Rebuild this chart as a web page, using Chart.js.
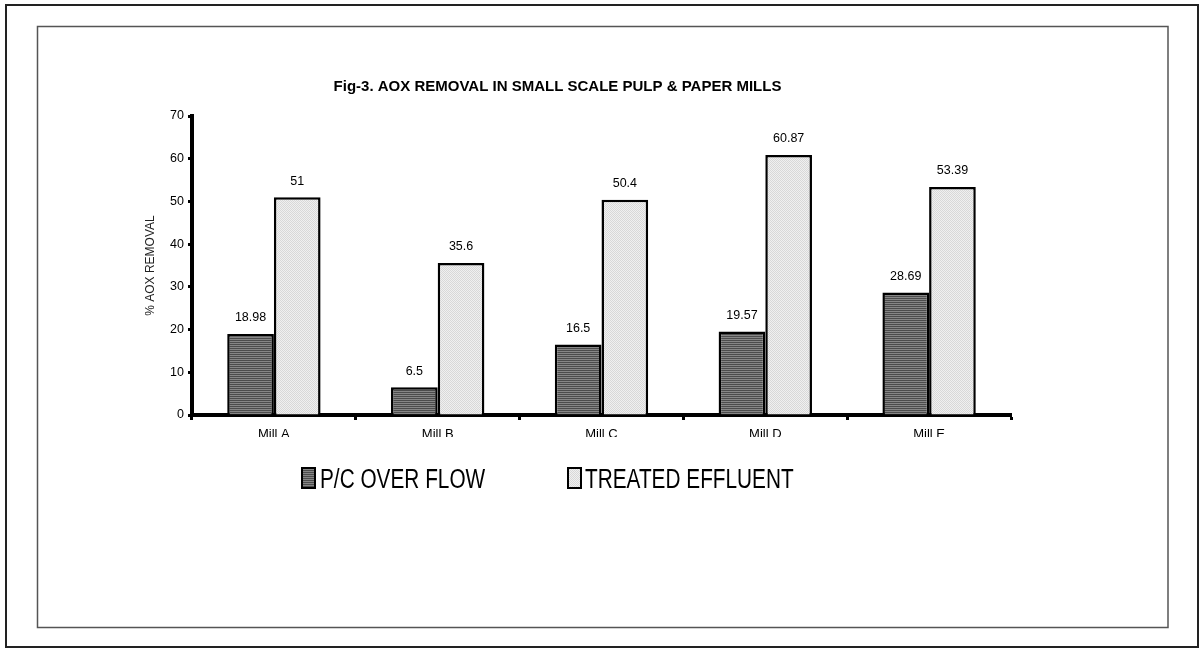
<!DOCTYPE html>
<html>
<head>
<meta charset="utf-8">
<script src="https://cdn.jsdelivr.net/npm/chart.js@4/dist/chart.umd.min.js"></script>
<style>
  html, body { margin: 0; padding: 0; background: #fff; }
  #wrap { position: relative; width: 1204px; height: 648px; }
</style>
</head>
<body>
<div id="wrap"><canvas id="c"></canvas></div>
<script>
const categories = ['Mill A', 'Mill B', 'Mill C', 'Mill D', 'Mill E'];
const seriesNames = ['P/C OVER FLOW', 'TREATED EFFLUENT'];
const pcOverFlow = [18.98, 6.5, 16.5, 19.57, 28.69];
const treatedEffluent = [51, 35.6, 50.4, 60.87, 53.39];
const yTicks = [0, 10, 20, 30, 40, 50, 60, 70];
const chartTitle = 'Fig-3. AOX REMOVAL IN SMALL SCALE PULP & PAPER MILLS';
const yTitle = '% AOX REMOVAL';

const FONT = '"Liberation Sans", Arial, sans-serif';

function makePattern(w, h, draw) {
  const cv = document.createElement('canvas');
  cv.width = w; cv.height = h;
  const g = cv.getContext('2d');
  draw(g);
  return g.createPattern(cv, 'repeat');
}
const darkPattern = makePattern(1, 2, g => {
  g.fillStyle = '#4c4c4c'; g.fillRect(0, 0, 1, 1);
  g.fillStyle = '#868686'; g.fillRect(0, 1, 1, 1);
});
const lightPattern = makePattern(2, 2, g => {
  g.fillStyle = '#f0f0f0'; g.fillRect(0, 0, 2, 2);
  g.fillStyle = '#d8d8d8'; g.fillRect(0, 0, 1, 1); g.fillRect(1, 1, 1, 1);
});

const framePlugin = {
  id: 'frame',
  beforeDraw(chart) {
    const ctx = chart.ctx;
    ctx.save();
    ctx.fillStyle = '#fff';
    ctx.fillRect(0, 0, chart.width, chart.height);
    ctx.strokeStyle = '#222';
    ctx.lineWidth = 2;
    ctx.strokeRect(6, 5, 1192, 642);
    ctx.strokeStyle = '#555';
    ctx.lineWidth = 1.5;
    ctx.strokeRect(37.5, 26.5, 1130.5, 601);
    ctx.restore();
  }
};

const labelsPlugin = {
  id: 'barLabels',
  afterDatasetsDraw(chart) {
    const ctx = chart.ctx;
    ctx.save();
    ctx.font = '12.5px ' + FONT;
    ctx.fillStyle = '#000';
    ctx.textAlign = 'center';
    ctx.textBaseline = 'middle';
    chart.data.datasets.forEach((ds, di) => {
      const meta = chart.getDatasetMeta(di);
      meta.data.forEach((bar, i) => {
        ctx.fillText(String(ds.data[i]), bar.x, bar.y - 16);
      });
    });
    ctx.restore();
  },
  afterDraw(chart) {
    // reference clips the bottom of the category labels
    const ctx = chart.ctx;
    const xs = chart.scales.x;
    ctx.save();
    ctx.fillStyle = '#fff';
    ctx.fillRect(xs.left - 40, 437, xs.width + 80, 8);
    ctx.restore();
    // legend
    const pos = [{bx: 302, tx: 320}, {bx: 568, tx: 585}];
    chart.data.datasets.forEach((ds, di) => {
      const p = pos[di];
      ctx.save();
      ctx.fillStyle = ds.backgroundColor;
      ctx.fillRect(p.bx, 468, 13, 20);
      ctx.strokeStyle = '#000';
      ctx.lineWidth = 2;
      ctx.strokeRect(p.bx, 468, 13, 20);
      ctx.translate(p.tx, 488);
      ctx.scale(0.77, 1);
      ctx.font = '27px ' + FONT;
      ctx.fillStyle = '#000';
      ctx.textAlign = 'left';
      ctx.textBaseline = 'alphabetic';
      ctx.fillText(ds.label, 0, 0);
      ctx.restore();
    });
  }
};

new Chart(document.getElementById('c'), {
  type: 'bar',
  data: {
    labels: categories,
    datasets: [
      { label: seriesNames[0], data: pcOverFlow, backgroundColor: darkPattern,
        borderColor: '#000', borderWidth: 2.5, categoryPercentage: 0.57, barPercentage: 1 },
      { label: seriesNames[1], data: treatedEffluent, backgroundColor: lightPattern,
        borderColor: '#000', borderWidth: 2.5, categoryPercentage: 0.57, barPercentage: 1 }
    ]
  },
  options: {
    responsive: true,
    maintainAspectRatio: false,
    devicePixelRatio: 1,
    animation: false,
    layout: { padding: { top: 0, left: 104, right: 193, bottom: 203 } },
    plugins: {
      legend: { display: false },
      tooltip: { enabled: false },
      title: {
        display: true,
        text: chartTitle,
        color: '#000',
        font: { family: FONT, size: 15, weight: 'bold' },
        padding: { top: 78, bottom: 20 }
      }
    },
    scales: {
      x: {
        afterFit(s) { s.height = 30; },
        grid: { display: true, drawOnChartArea: false, drawTicks: true, tickLength: 5, tickWidth: 3, tickColor: '#000', offset: true },
        border: { display: true, color: '#000', width: 4 },
        ticks: { color: '#000', font: { family: FONT, size: 13 }, padding: 7, maxRotation: 0 }
      },
      y: {
        min: 0, max: 70,
        afterFit(s) { s.width = 88; },
        afterBuildTicks(s) { s.ticks = yTicks.map(v => ({ value: v })); },
        grid: { display: true, drawOnChartArea: false, drawTicks: true, tickLength: 4, tickWidth: 3, tickColor: '#000' },
        border: { display: true, color: '#000', width: 4 },
        ticks: { color: '#000', font: { family: FONT, size: 12.5 }, padding: 4 },
        title: { display: true, text: yTitle, color: '#222', font: { family: FONT, size: 12 }, padding: { top: 39 } }
      }
    }
  },
  plugins: [framePlugin, labelsPlugin]
});
</script>
</body>
</html>
